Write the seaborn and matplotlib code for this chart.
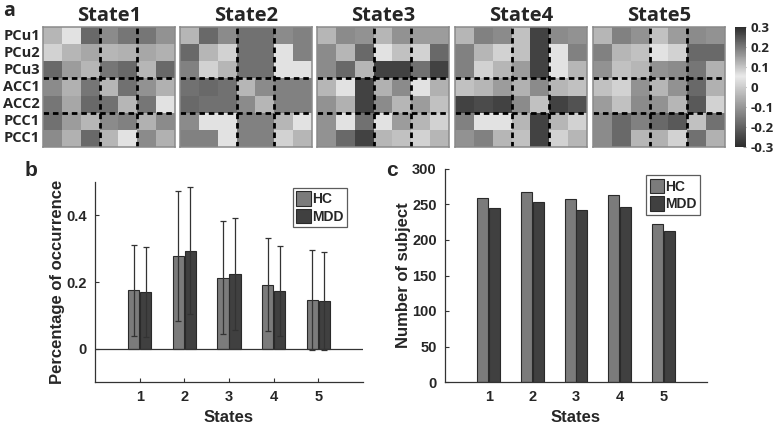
import numpy as np
import pandas as pd
import matplotlib
matplotlib.use("Agg")
import matplotlib.pyplot as plt
import seaborn as sns
from matplotlib.colors import LinearSegmentedColormap

# ── Data ──────────────────────────────────────────────────────────────────────
regions = ["PCu1", "PCu2", "PCu3", "ACC1", "ACC2", "PCC1", "PCC1"]
state_names = ["State1", "State2", "State3", "State4", "State5"]

state1 = [[-0.04, 0.04, 0.22, -0.12, -0.16, -0.16, -0.11],
          [0.01, -0.04, -0.07, -0.04, -0.05, -0.07, -0.05],
          [0.22, -0.09, -0.04, -0.16, 0.22, -0.04, 0.22],
          [-0.12, -0.05, -0.16, -0.04, 0.21, -0.11, -0.05],
          [-0.16, -0.07, 0.22, 0.21, -0.04, -0.16, 0.04],
          [0.21, -0.09, -0.04, -0.12, -0.14, -0.05, -0.12],
          [-0.12, -0.05, 0.22, -0.04, 0.04, -0.12, -0.05]]
state2 = [[-0.04, 0.22, -0.12, 0.21, 0.21, -0.12, -0.14],
          [0.22, -0.04, 0.01, 0.21, 0.21, 0.04, -0.14],
          [-0.14, 0.01, -0.04, 0.21, 0.21, 0.04, 0.04],
          [0.21, 0.22, 0.21, -0.04, -0.12, -0.14, -0.14],
          [0.22, 0.21, 0.21, -0.12, -0.04, -0.14, -0.14],
          [-0.12, 0.04, 0.04, -0.14, -0.14, -0.04, 0.04],
          [-0.14, -0.14, 0.04, -0.14, -0.14, 0.01, -0.04]]
state3 = [[-0.04, -0.12, -0.11, -0.04, -0.11, -0.09, -0.09],
          [-0.12, -0.04, 0.22, 0.04, -0.02, 0.01, 0.22],
          [-0.12, 0.22, -0.04, 0.27, 0.27, 0.21, 0.27],
          [-0.04, 0.04, 0.27, -0.05, -0.12, 0.04, -0.05],
          [-0.11, -0.05, 0.27, -0.12, -0.04, -0.09, -0.02],
          [-0.11, 0.04, 0.21, 0.04, -0.09, -0.04, 0.01],
          [-0.11, 0.22, 0.27, -0.04, -0.02, 0.01, -0.04]]
state4 = [[-0.04, -0.14, -0.12, -0.02, 0.27, -0.12, -0.11],
          [-0.14, -0.04, 0.01, -0.02, 0.27, 0.04, -0.14],
          [-0.14, 0.01, -0.04, -0.09, 0.27, 0.04, -0.04],
          [-0.02, -0.04, -0.09, -0.05, -0.12, -0.04, -0.02],
          [0.27, 0.26, 0.27, -0.12, -0.02, 0.27, 0.25],
          [-0.14, 0.04, 0.04, -0.04, 0.27, -0.04, 0.01],
          [-0.11, -0.14, -0.04, -0.02, 0.27, 0.01, -0.04]]
state5 = [[-0.04, -0.14, -0.11, -0.02, -0.09, -0.12, -0.11],
          [-0.14, -0.04, -0.02, 0.04, 0.01, 0.22, 0.22],
          [-0.11, -0.02, -0.04, -0.11, -0.12, -0.16, -0.05],
          [-0.02, 0.01, -0.11, -0.04, -0.11, 0.22, -0.05],
          [-0.09, -0.02, -0.12, -0.11, -0.04, 0.24, 0.01],
          [-0.12, 0.22, -0.14, 0.22, 0.24, -0.02, 0.21],
          [-0.12, 0.22, -0.04, -0.05, 0.01, 0.21, -0.05]]
state_mats = [state1, state2, state3, state4, state5]
cbar_ticks = [0.3, 0.2, 0.1, 0, -0.1, -0.2, -0.3]

states = ["1", "2", "3", "4", "5"]
groups = ["HC", "MDD"]
occ_hc = [0.175, 0.278, 0.213, 0.192, 0.145]
occ_mdd = [0.170, 0.294, 0.224, 0.173, 0.143]
occ_hc_sd = [0.137, 0.195, 0.170, 0.139, 0.150]
occ_mdd_sd = [0.135, 0.190, 0.168, 0.134, 0.147]
subj_hc = [259, 267, 258, 264, 223]
subj_mdd = [245, 253, 242, 246, 213]

# ── Style ─────────────────────────────────────────────────────────────────────
sns.set_style("white")
plt.rcParams["font.family"] = ["Liberation Sans", "DejaVu Sans"]
plt.rcParams["font.weight"] = "bold"
HM_FONT = ["Open Sans", "DejaVu Sans"]
BAR_COLORS = ["#7b7b7b", "#404040"]
AX_COLOR = "#333333"

W, H = 777, 425
fig = plt.figure(figsize=(W / 100, H / 100), dpi=100)


def px_axes(x0, y0, x1, y1):
    """Axes placed by pixel box (left, top, right, bottom)."""
    return fig.add_axes([x0 / W, 1 - y1 / H, (x1 - x0) / W, (y1 - y0) / H])


# ── Panel a: state heatmaps ───────────────────────────────────────────────────
cmap = LinearSegmentedColormap.from_list(
    "vgray", [(0, "#2c2c2c"), (0.59, "#e9e9e9"), (1, "#2c2c2c")])
cax = px_axes(735, 27, 746, 147)
hm_left = [43, 180, 317, 455, 593]

for i, (name, mat) in enumerate(zip(state_names, state_mats)):
    ax = px_axes(hm_left[i], 27, hm_left[i] + 132, 147)
    df = pd.DataFrame(mat, index=regions)
    sns.heatmap(df, ax=ax, cmap=cmap, vmin=-0.3, vmax=0.3,
                cbar=(i == 4), cbar_ax=cax if i == 4 else None,
                xticklabels=False, yticklabels=regions if i == 0 else False)
    for v in [3, 5]:
        ax.axvline(v, color="black", lw=2, ls=(0, (2, 1.4)))
        ax.axhline(v, color="black", lw=2, ls=(0, (2, 1.4)))
    for sp in ax.spines.values():
        sp.set_visible(True)
        sp.set_color("#8a8a8a")
        sp.set_linewidth(1.1)
    ax.set_title(name, fontsize=14.5, fontweight="bold", family=HM_FONT, pad=4)
    ax.tick_params(axis="y", length=0, pad=2)
    if i == 0:
        for t in ax.get_yticklabels():
            t.set_rotation(0)
            t.set_fontsize(10.5)
            t.set_fontweight("bold")
            t.set_family(HM_FONT)

cbar = fig.axes[-1].collections[0].colorbar
cbar.set_ticks(cbar_ticks)
cbar.set_ticklabels([f"{t:g}" for t in cbar_ticks])
cbar.outline.set_edgecolor("#8a8a8a")
cbar.ax.tick_params(length=2, color="#999999", direction="in", pad=3)
for t in cbar.ax.get_yticklabels():
    t.set_fontsize(9.5)
    t.set_fontweight("bold")
    t.set_family(HM_FONT)

fig.text(3 / W, 1 - 11 / H, "a", fontsize=14, fontweight="bold",
         family=HM_FONT, va="center")


# ── Panels b and c: grouped bars ──────────────────────────────────────────────
def style_bar_axes(ax):
    sns.despine(ax=ax)
    for side in ["left", "bottom"]:
        ax.spines[side].set_color(AX_COLOR)
        ax.spines[side].set_linewidth(0.9)
    ax.tick_params(direction="in", length=3, color=AX_COLOR,
                   labelsize=10.5, pad=6, bottom=True, left=True)
    ax.set_xlim(-1, 5)


def place_legend(ax, anchor):
    old = ax.get_legend()
    handles = old.legend_handles
    labels = [t.get_text() for t in old.get_texts()]
    leg = ax.legend(handles, labels, loc="upper right", bbox_to_anchor=anchor,
                    frameon=True, fancybox=False, edgecolor=AX_COLOR,
                    handlelength=1.05, handleheight=1.2, handletextpad=0.1,
                    borderpad=0.25, labelspacing=0.2, borderaxespad=0,
                    prop=dict(weight="bold", size=10))
    leg.get_frame().set_linewidth(0.9)
    for hd in leg.legend_handles:
        hd.set_edgecolor("#2a2a2a")
        hd.set_linewidth(0.8)


occ_df = pd.DataFrame({
    "State": states * 2,
    "Group": [groups[0]] * 5 + [groups[1]] * 5,
    "Occurrence": occ_hc + occ_mdd,
    "SD": occ_hc_sd + occ_mdd_sd,
})
subj_df = pd.DataFrame({
    "State": states * 2,
    "Group": [groups[0]] * 5 + [groups[1]] * 5,
    "Subjects": subj_hc + subj_mdd,
})

ax_b = px_axes(95, 182, 363, 382)
sns.barplot(data=occ_df, x="State", y="Occurrence", hue="Group",
            palette=BAR_COLORS, width=0.54, gap=0.07, saturation=1,
            edgecolor="#2a2a2a", linewidth=0.8, errorbar=None, ax=ax_b)
for container, g in zip(ax_b.containers, groups):
    sd = occ_df.loc[occ_df["Group"] == g, "SD"].to_numpy()
    xs = [b.get_x() + b.get_width() / 2 for b in container]
    ys = [b.get_height() for b in container]
    ax_b.errorbar(xs, ys, yerr=sd, fmt="none", ecolor=AX_COLOR,
                  elinewidth=0.9, capsize=2, capthick=0.9)
ax_b.axhline(0, color=AX_COLOR, lw=0.9)
style_bar_axes(ax_b)
ax_b.set_ylim(-0.1, 0.5)
ax_b.set_yticks([0, 0.2, 0.4])
ax_b.set_yticklabels(["0", "0.2", "0.4"])
ax_b.set_xlabel("States", fontsize=12, fontweight="bold", labelpad=4)
ax_b.set_ylabel("Percentage of occurrence", fontsize=12, fontweight="bold",
                labelpad=1)
place_legend(ax_b, (0.94, 0.97))

ax_c = px_axes(445, 169, 707, 382)
sns.barplot(data=subj_df, x="State", y="Subjects", hue="Group",
            palette=BAR_COLORS, width=0.54, gap=0.07, saturation=1,
            edgecolor="#2a2a2a", linewidth=0.8, errorbar=None, ax=ax_c)
style_bar_axes(ax_c)
ax_c.set_ylim(0, 300)
ax_c.set_yticks(range(0, 301, 50))
ax_c.set_xlabel("States", fontsize=12, fontweight="bold", labelpad=4)
ax_c.set_ylabel("Number of subject", fontsize=12, fontweight="bold",
                labelpad=1)
place_legend(ax_c, (0.975, 0.97))

fig.text(25 / W, 1 - 170 / H, "b", fontsize=15, fontweight="bold", va="center")
fig.text(386 / W, 1 - 170 / H, "c", fontsize=15, fontweight="bold", va="center")

fig.savefig("out.png", dpi=100)
plt.close(fig)
